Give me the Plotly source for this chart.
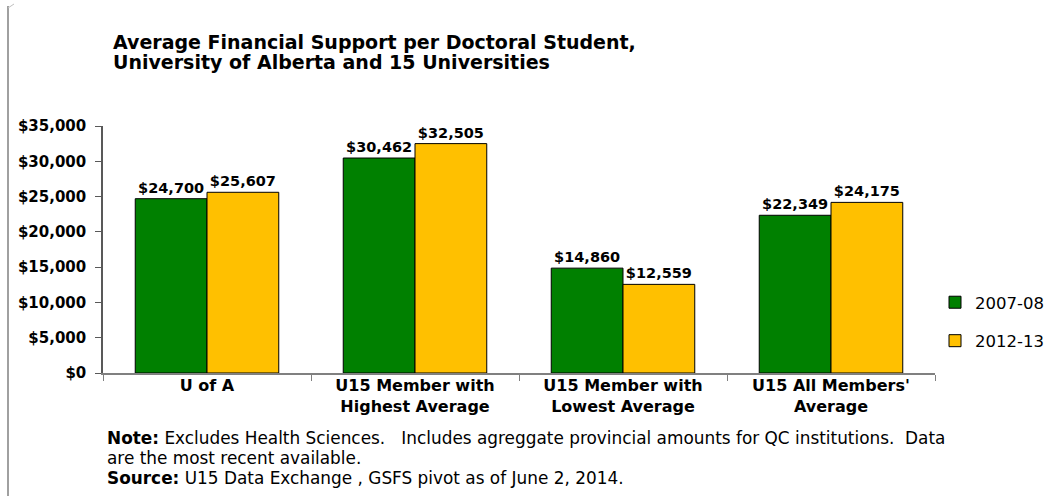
import plotly.graph_objects as go

categories = ["U of A", "U15 Member with<br>Highest Average",
              "U15 Member with<br>Lowest Average", "U15 All Members'<br>Average"]
series_names = ["2007-08", "2012-13"]
values_2007 = [24700, 30462, 14860, 22349]
values_2012 = [25607, 32505, 12559, 24175]
y_ticks = [0, 5000, 10000, 15000, 20000, 25000, 30000, 35000]
colors = ["#008000", "#FFC000"]

W, H = 1049, 496
L, R, T, B = 103, 114, 126, 123
pw, ph = W - L - R, H - T - B

def px_x(x):  # reference-image pixel -> paper x
    return (x - L) / pw

def px_y(y):  # reference-image pixel -> paper y
    return (H - B - y) / ph

BOLD = "DejaVu Sans"

fig = go.Figure()
for i, (name, vals) in enumerate(zip(series_names, [values_2007, values_2012])):
    fig.add_trace(go.Bar(
        x=categories, y=vals, name=name,
        marker=dict(color=colors[i], line=dict(color="#000000", width=1)),
        text=[f"${v:,.0f}" for v in vals], textposition="outside",
        textfont=dict(family=BOLD, size=14.5, color="#000000", weight="bold"),
        cliponaxis=False,
        legendgroup=name,
    ))

fig.update_layout(
    width=W, height=H,
    margin=dict(l=L, r=R, t=T, b=B, autoexpand=False),
    paper_bgcolor="white", plot_bgcolor="white",
    barmode="group", bargap=0.31, bargroupgap=0,
    font=dict(family=BOLD, color="#000000"),
    showlegend=True,
    legend=dict(x=px_x(935), y=px_y(285), xanchor="left", yanchor="top",
                font=dict(size=16.5, family="DejaVu Sans", color="#000000"),
                tracegroupgap=14, bgcolor="rgba(0,0,0,0)", itemwidth=30),
    xaxis=dict(showline=True, linecolor="#808080", linewidth=1.5,
               ticks="outside", tickson="boundaries", ticklen=6,
               tickcolor="#808080", ticklabelstandoff=-3,
               tickvals=categories, ticktext=categories,
               tickfont=dict(size=16, family=BOLD, weight="bold"),
               showgrid=False),
    yaxis=dict(range=[0, 35000], tickvals=y_ticks,
               ticktext=[f"${v:,.0f}" for v in y_ticks],
               showline=True, linecolor="#595959", linewidth=1.5,
               ticks="outside", ticklen=6, tickcolor="#595959",
               ticklabelstandoff=6,
               tickfont=dict(size=15, family=BOLD, weight="bold"),
               showgrid=False, zeroline=False),
)

title_lines = ["Average Financial Support per Doctoral Student,",
               "University of Alberta and 15 Universities"]
for line, yc in zip(title_lines, [42, 62]):
    fig.add_annotation(
        xref="paper", yref="paper", x=px_x(111), y=px_y(yc),
        xanchor="left", yanchor="middle", align="left", showarrow=False,
        text=line,
        font=dict(size=19, family=BOLD, color="#000000", weight="bold"),
    )

note_lines = [
    "<b>Note:</b> Excludes Health Sciences.   Includes agreggate provincial amounts for QC institutions.  Data",
    "are the most recent available.",
    "<b>Source:</b> U15 Data Exchange , GSFS pivot as of June 2, 2014.",
]
for line, yc in zip(note_lines, [438, 458, 478]):
    fig.add_annotation(
        xref="paper", yref="paper", x=px_x(105), y=px_y(yc),
        xanchor="left", yanchor="middle", align="left", showarrow=False,
        text=line,
        font=dict(size=16.9, family="DejaVu Sans", color="#000000"),
    )

fig.add_shape(type="line", xref="paper", yref="paper",
              x0=px_x(8), x1=px_x(8), y0=px_y(500), y1=px_y(6),
              line=dict(color="#a0a0a0", width=2))
fig.add_shape(type="line", xref="paper", yref="paper",
              x0=px_x(8), x1=px_x(14), y0=px_y(8), y1=px_y(4),
              line=dict(color="#c0c0c0", width=1))

fig.write_html("out.html",
               config={"displayModeBar": False},
               post_script="document.body.style.margin='0';document.body.style.overflow='hidden';")
